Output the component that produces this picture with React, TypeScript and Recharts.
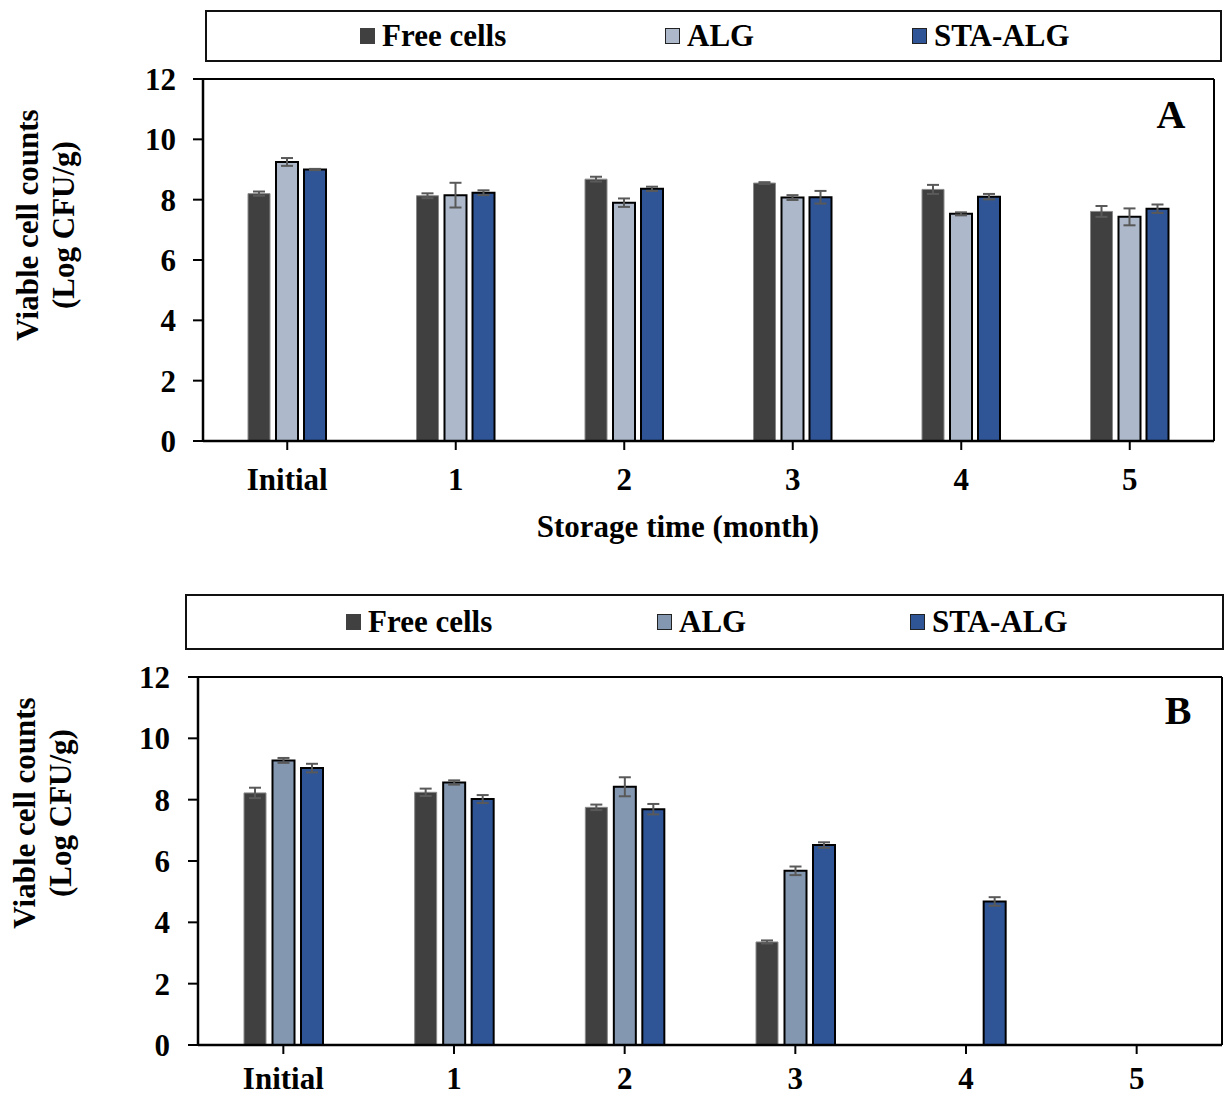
import React from 'react';
import { BarChart, Bar, XAxis, YAxis, ErrorBar, Legend } from 'recharts';

// Categories and axis ticks
const months = ['Initial', '1', '2', '3', '4', '5'];
const yTicks = [0, 2, 4, 6, 8, 10, 12];
const seriesNames = ['Free cells', 'ALG', 'STA-ALG'];

// Panel A – viable counts (Log CFU/g) and standard deviations
const freeA = [8.2, 8.13, 8.68, 8.55, 8.34, 7.61];
const freeAErr = [0.07, 0.08, 0.08, 0.03, 0.15, 0.18];
const algA = [9.25, 8.15, 7.9, 8.07, 7.53, 7.43];
const algAErr = [0.13, 0.41, 0.14, 0.08, 0.05, 0.28];
const staA = [9.0, 8.23, 8.36, 8.08, 8.1, 7.7];
const staAErr = [0.02, 0.08, 0.07, 0.21, 0.09, 0.14];

// Panel B – viable counts (Log CFU/g) and standard deviations; null = not detected
const freeB = [8.22, 8.24, 7.75, 3.36, null, null];
const freeBErr = [0.17, 0.12, 0.09, 0.05, null, null];
const algB = [9.28, 8.56, 8.42, 5.68, null, null];
const algBErr = [0.08, 0.07, 0.31, 0.14, null, null];
const staB = [9.03, 8.02, 7.69, 6.52, 4.68, null];
const staBErr = [0.14, 0.13, 0.17, 0.09, 0.14, null];

const FONT = '"Liberation Serif", "Times New Roman", serif';
const FREE_FILL = '#404040';
const ALG_FILL_A = '#adb9ca';
const ALG_FILL_B = '#8497b0';
const STA_FILL = '#2f5597';
const ERR_COLOR = '#595959';

type Row = {
  month: string;
  free: number | null;
  freeErr: number | null;
  alg: number | null;
  algErr: number | null;
  sta: number | null;
  staErr: number | null;
};

const buildRows = (
  free: (number | null)[],
  freeErr: (number | null)[],
  alg: (number | null)[],
  algErr: (number | null)[],
  sta: (number | null)[],
  staErr: (number | null)[]
): Row[] =>
  months.map((m, i) => ({
    month: m,
    free: free[i],
    freeErr: freeErr[i],
    alg: alg[i],
    algErr: algErr[i],
    sta: sta[i],
    staErr: staErr[i],
  }));

const rowsA = buildRows(freeA, freeAErr, algA, algAErr, staA, staAErr);
const rowsB = buildRows(freeB, freeBErr, algB, algBErr, staB, staBErr);

type LegendItem = { name: string; fill: string; border: string };

const LegendBox = ({
  items,
  offsets,
  width,
  height,
}: {
  items: LegendItem[];
  offsets: number[];
  width: number;
  height: number;
}) => (
  <div
    style={{
      width,
      height,
      border: '2px solid #111',
      boxSizing: 'border-box',
      position: 'relative',
      fontFamily: FONT,
      fontWeight: 'bold',
      fontSize: 31,
      color: '#000',
      background: '#fff',
    }}
  >
    {items.map((it, i) => (
      <div
        key={it.name}
        style={{
          position: 'absolute',
          left: offsets[i],
          top: 0,
          height: '100%',
          display: 'flex',
          alignItems: 'center',
          whiteSpace: 'nowrap',
        }}
      >
        <span
          style={{
            display: 'inline-block',
            width: 15,
            height: 16,
            background: it.fill,
            border: `1.5px solid ${it.border}`,
            boxSizing: 'border-box',
            marginRight: 7,
          }}
        />
        <span>{it.name}</span>
      </div>
    ))}
  </div>
);

type PanelProps = {
  rows: Row[];
  algFill: string;
  height: number;
  margin: { top: number; right: number; left: number; bottom: number };
  xAxisHeight: number;
  xTickMargin: number;
  yTickMargin: number;
  legendBox: { left: number; top: number; width: number; height: number };
  legendOffsets: number[];
  letter: string;
  letterPos: { x: number; y: number };
  yTitlePos: { x1: number; x2: number; y: number };
  xTitle?: { x: number; y: number; text: string };
  barGap: number;
};

const tickStyle = { fill: '#000', fontSize: 31, fontWeight: 'bold', fontFamily: FONT };

const Panel = (p: PanelProps) => {
  const legendItems: LegendItem[] = [
    { name: seriesNames[0], fill: FREE_FILL, border: FREE_FILL },
    { name: seriesNames[1], fill: p.algFill, border: '#222' },
    { name: seriesNames[2], fill: STA_FILL, border: '#222' },
  ];
  const titleStyle = { fontFamily: FONT, fontWeight: 'bold', fontSize: 31, fill: '#000' } as const;
  return (
    <BarChart
      width={1217}
      height={p.height}
      data={p.rows}
      margin={p.margin}
      barGap={p.barGap}
      barSize={22}
    >
      <Legend
        layout="horizontal"
        verticalAlign="middle"
        align="center"
        wrapperStyle={{ ...p.legendBox, position: 'absolute' }}
        content={() => (
          <LegendBox
            items={legendItems}
            offsets={p.legendOffsets}
            width={p.legendBox.width}
            height={p.legendBox.height}
          />
        )}
      />
      <XAxis
        dataKey="month"
        height={p.xAxisHeight}
        interval={0}
        tick={tickStyle}
        tickSize={9}
        tickMargin={p.xTickMargin}
        axisLine={{ stroke: '#000', strokeWidth: 2.5 }}
        tickLine={{ stroke: '#000', strokeWidth: 2 }}
      />
      {/* top edge of the plot frame */}
      <XAxis
        xAxisId="frame"
        dataKey="month"
        orientation="top"
        height={1}
        tick={false}
        tickLine={false}
        axisLine={{ stroke: '#000', strokeWidth: 2 }}
      />
      <YAxis
        width={60}
        domain={[0, 12]}
        ticks={yTicks}
        allowDataOverflow
        tick={tickStyle}
        tickSize={10}
        tickMargin={p.yTickMargin}
        axisLine={{ stroke: '#000', strokeWidth: 2.5 }}
        tickLine={{ stroke: '#000', strokeWidth: 2 }}
      />
      {/* right edge of the plot frame */}
      <YAxis
        yAxisId="frame"
        orientation="right"
        width={1}
        domain={[0, 12]}
        tick={false}
        tickLine={false}
        axisLine={{ stroke: '#000', strokeWidth: 2 }}
      />
      <Bar dataKey="free" name={seriesNames[0]} fill={FREE_FILL} stroke="#8a8a8a" strokeWidth={1} isAnimationActive={false}>
        <ErrorBar dataKey="freeErr" direction="y" width={6} stroke={ERR_COLOR} strokeWidth={2} />
      </Bar>
      <Bar dataKey="alg" name={seriesNames[1]} fill={p.algFill} stroke="#000" strokeWidth={2} isAnimationActive={false}>
        <ErrorBar dataKey="algErr" direction="y" width={6} stroke={ERR_COLOR} strokeWidth={2} />
      </Bar>
      <Bar dataKey="sta" name={seriesNames[2]} fill={STA_FILL} stroke="#000" strokeWidth={2} isAnimationActive={false}>
        <ErrorBar dataKey="staErr" direction="y" width={6} stroke={ERR_COLOR} strokeWidth={2} />
      </Bar>
      <text
        x={p.letterPos.x}
        y={p.letterPos.y}
        textAnchor="middle"
        style={{ fontFamily: FONT, fontWeight: 'bold', fontSize: 40, fill: '#000' }}
      >
        {p.letter}
      </text>
      <text
        x={p.yTitlePos.x1}
        y={p.yTitlePos.y}
        textAnchor="middle"
        dominantBaseline="central"
        transform={`rotate(-90, ${p.yTitlePos.x1}, ${p.yTitlePos.y})`}
        style={titleStyle}
      >
        Viable cell counts
      </text>
      <text
        x={p.yTitlePos.x2}
        y={p.yTitlePos.y}
        textAnchor="middle"
        dominantBaseline="central"
        transform={`rotate(-90, ${p.yTitlePos.x2}, ${p.yTitlePos.y})`}
        style={titleStyle}
      >
        (Log CFU/g)
      </text>
      {p.xTitle && (
        <text x={p.xTitle.x} y={p.xTitle.y} textAnchor="middle" style={titleStyle}>
          {p.xTitle.text}
        </text>
      )}
    </BarChart>
  );
};

export default function App() {
  return (
    <div
      style={{
        position: 'fixed',
        left: 8,
        top: 8,
        width: 1217,
        height: 1089,
        background: '#fff',
      }}
    >
      <div style={{ position: 'absolute', left: 0, top: 0 }}>
        <Panel
          rows={rowsA}
          algFill={ALG_FILL_A}
          height={550}
          margin={{ top: 70, right: 10, left: 135, bottom: 0 }}
          xAxisHeight={117}
          xTickMargin={18}
          yTickMargin={17}
          legendBox={{ left: 197, top: 2, width: 1017, height: 52 }}
          legendOffsets={[153, 458, 705]}
          letter="A"
          letterPos={{ x: 1163, y: 120 }}
          yTitlePos={{ x1: 19, x2: 55, y: 217 }}
          xTitle={{ x: 670, y: 529, text: 'Storage time (month)' }}
          barGap={6}
        />
      </div>
      <div style={{ position: 'absolute', left: 0, top: 560 }}>
        <Panel
          rows={rowsB}
          algFill={ALG_FILL_B}
          height={529}
          margin={{ top: 108, right: 2, left: 130, bottom: 0 }}
          xAxisHeight={52}
          xTickMargin={13}
          yTickMargin={18}
          legendBox={{ left: 177, top: 26, width: 1039, height: 56 }}
          legendOffsets={[159, 470, 723]}
          letter="B"
          letterPos={{ x: 1170, y: 156 }}
          yTitlePos={{ x1: 16, x2: 52, y: 245 }}
          barGap={6.5}
        />
      </div>
    </div>
  );
}
